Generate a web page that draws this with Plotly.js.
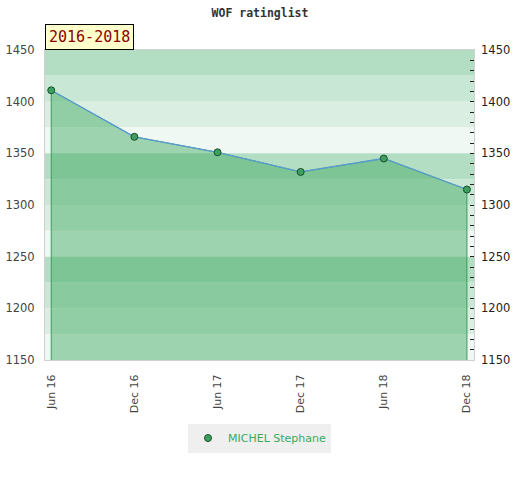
<!DOCTYPE html>
<html>
<head>
<meta charset="utf-8">
<script src="https://cdn.plot.ly/plotly-3.0.1.min.js"></script>
<style>html,body{margin:0;padding:0;background:#fff;}#chart{width:520px;height:480px;}</style>
</head>
<body>
<div id="chart"></div>
<script>
// ---- data ----
var periods = ["Jun 16", "Dec 16", "Jun 17", "Dec 17", "Jun 18", "Dec 18"];
var ratings = [1411, 1366, 1351, 1332, 1345, 1315];
var playerName = "MICHEL Stephane";
var chartTitle = "WOF ratinglist";
var periodLabel = "2016-2018";
var yMin = 1150, yMax = 1450;

// ---- background stripes (repeat every 100 rating points) ----
var stripeCycle = ["#b3dec4", "#c9e7d5", "#dbeee2", "#eff8f2"]; // top to bottom in each 100 block
var shapes = [];
for (var v = yMax; v > yMin; v -= 25) {
  var k = ((yMax - v) / 25) % 4;
  shapes.push({type: "rect", xref: "paper", yref: "y", x0: 0, x1: 1, y0: v - 25, y1: v,
    fillcolor: stripeCycle[k], line: {width: 0}, layer: "below"});
}

var xIdx = periods.map(function (_, k) { return k; });
var areaX = [xIdx[0]].concat(xIdx, [xIdx[xIdx.length - 1]]);
var areaY = [yMin].concat(ratings, [yMin]);

var traces = [
  {x: areaX, y: areaY, mode: "lines", fill: "toself",
   fillcolor: "rgba(60,168,93,0.46)", line: {color: "#3a9d5d", width: 1},
   showlegend: false, hoverinfo: "skip"},
  {x: xIdx, y: ratings, mode: "lines", line: {color: "#5b9bd5", width: 1.3},
   showlegend: false, hoverinfo: "skip"},
  {x: xIdx, y: ratings, mode: "markers", name: playerName,
   marker: {color: "#3ca060", size: 7, line: {color: "#1d4d2d", width: 1}}},
  {x: xIdx, y: ratings, yaxis: "y2", mode: "lines", opacity: 0,
   showlegend: false, hoverinfo: "skip"}
];

var layout = {
  width: 520, height: 480,
  margin: {l: 45, r: 46, t: 50, b: 120},
  paper_bgcolor: "#ffffff", plot_bgcolor: "#ffffff",
  font: {family: "DejaVu Sans", size: 11.5, color: "#444"},
  title: {text: chartTitle, x: 0.5, xanchor: "center", y: 0.973, yanchor: "middle",
    font: {family: "DejaVu Sans Mono", size: 11.5, color: "#333", weight: "bold"}},
  xaxis: {range: [-0.075, 5.085], tickmode: "array", tickvals: xIdx, ticktext: periods,
    tickangle: -90, showgrid: false, zeroline: false, showline: true, linecolor: "#d0d0d0",
    linewidth: 1, mirror: true, ticks: "", ticklabelstandoff: 9,
    tickfont: {size: 11, color: "#444"}},
  yaxis: {range: [yMin, yMax], dtick: 50, showgrid: false, zeroline: false, showline: true,
    linecolor: "#d0d0d0", linewidth: 1, mirror: true, ticks: "", ticklabelstandoff: 7,
    tickfont: {size: 11.5, color: "#444"}},
  yaxis2: {range: [yMin, yMax], dtick: 50, overlaying: "y", side: "right", showgrid: false,
    zeroline: false, ticks: "inside", ticklen: 4, tickcolor: "#222", ticklabelstandoff: 6,
    minor: {dtick: 10, ticks: "inside", ticklen: 4, tickcolor: "#222"},
    tickfont: {size: 11.5, color: "#222"}},
  showlegend: true,
  legend: {x: 0.5, xanchor: "center", y: -0.205, yanchor: "top", orientation: "h",
    bgcolor: "#efefef", font: {size: 11, color: "#3aaa5a"}, itemwidth: 30},
  shapes: shapes,
  annotations: [{text: periodLabel, xref: "paper", yref: "paper", x: 0, y: 1,
    xanchor: "left", yanchor: "bottom", showarrow: false, bgcolor: "#ffffcc",
    bordercolor: "#000", borderwidth: 1, borderpad: 3,
    font: {family: "DejaVu Sans Mono", size: 15, color: "#8b0000"}}]
};

Plotly.newPlot("chart", traces, layout, {displayModeBar: false, staticPlot: true});
</script>
</body>
</html>
